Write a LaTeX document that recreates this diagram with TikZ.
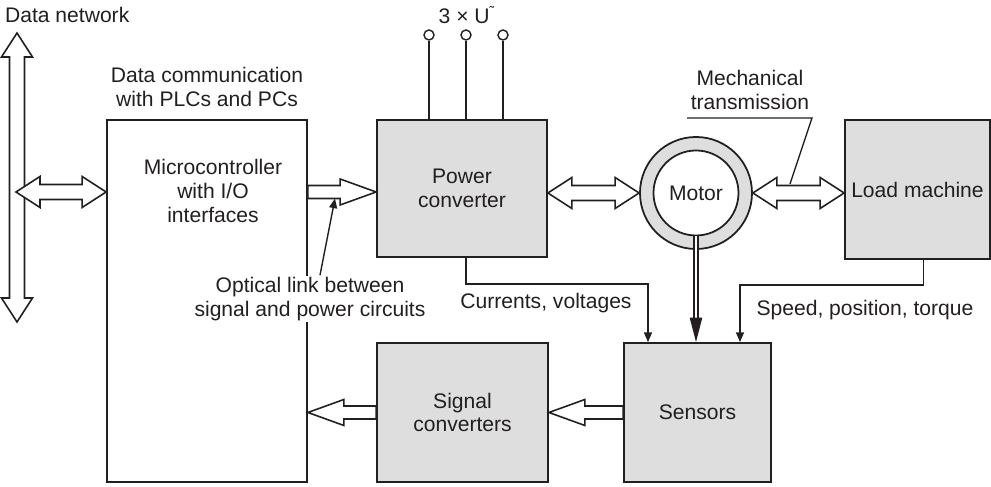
\documentclass[tikz,border=0pt]{standalone}
\usepackage{fontspec}
\setmainfont{Liberation Sans}
\usetikzlibrary{calc,arrows.meta,positioning}
\definecolor{ink}{RGB}{35,31,32}
\definecolor{boxgray}{RGB}{222,222,222}
\tikzset{
  block/.style={draw=ink,fill=boxgray,line width=1pt,inner sep=0pt,align=center,text=ink},
  txt/.style={text=ink,align=center,inner sep=1pt},
  thinline/.style={draw=ink,line width=0.8pt},
  wire/.style={thinline,-{Triangle[length=5.5pt,width=4.5pt]}},
  terminal/.style={circle,draw=ink,fill=white,line width=0.8pt,minimum size=0.2cm,inner sep=0pt}
}
% hollow block arrow, one head at #2
\newcommand{\hollowarrow}[2]{%
  \draw[ink,fill=white,line width=0.9pt] let \p1=($(#2)-(#1)$), \n1={veclen(\x1,\y1)},
    \n2={atan2(\y1,\x1)} in [shift={(#1)},rotate=\n2]
    (0cm,-0.13cm) -- ({\n1-0.72cm},-0.13cm) -- ({\n1-0.72cm},-0.26cm) -- (\n1,0cm)
    -- ({\n1-0.72cm},0.26cm) -- ({\n1-0.72cm},0.13cm) -- (0cm,0.13cm) -- cycle;}
% hollow block arrow, heads at both ends
\newcommand{\hollowdarrow}[2]{%
  \draw[ink,fill=white,line width=0.9pt] let \p1=($(#2)-(#1)$), \n1={veclen(\x1,\y1)},
    \n2={atan2(\y1,\x1)} in [shift={(#1)},rotate=\n2]
    (0cm,0cm) -- (0.48cm,0.31cm) -- (0.48cm,0.15cm) -- ({\n1-0.48cm},0.15cm) -- ({\n1-0.48cm},0.31cm) -- (\n1,0cm)
    -- ({\n1-0.48cm},-0.31cm) -- ({\n1-0.48cm},-0.15cm) -- (0.48cm,-0.15cm) -- (0.48cm,-0.31cm) -- cycle;}
\begin{document}
\begin{tikzpicture}[font=\fontsize{12}{13.5}\selectfont]
 \useasboundingbox (0,0) rectangle (19.82,9.74);
 % blocks
 \node[block,fill=white,minimum width=4.0cm,minimum height=7.24cm] (mcu) at (4.14,3.72) {};
 \node[txt] (mcutxt) at (4.26,5.92) {Microcontroller\\with I/O\\interfaces};
 \node[block,minimum width=3.40cm,minimum height=2.74cm] (pc) at (9.24,5.97) {Power\\converter};
 \node[block,minimum width=3.42cm,minimum height=2.78cm] (sig) at (9.25,1.49) {Signal\\converters};
 \node[block,minimum width=2.94cm,minimum height=2.78cm] (sens) at (13.95,1.49) {Sensors};
 \node[block,minimum width=2.90cm,minimum height=2.78cm] (load) at (18.35,5.95) {Load machine};
 \node[circle,draw=ink,fill=boxgray,line width=1pt,minimum size=2.24cm,inner sep=0pt] (motor) at (13.92,5.88) {};
 \node[circle,draw=ink,fill=white,line width=1pt,minimum size=1.70cm,inner sep=0pt,text=ink] (motorin) at (motor) {Motor};
 % labels
 \node[txt,anchor=west] (net) at (0.06,9.44) {Data network};
 \node[txt] (comm) at (4.14,8.00) {Data communication\\with PLCs and PCs};
 \node[txt] (supply) at (9.34,9.44) {3 × U\textsuperscript{\char"02DC}};
 \node[txt] (mech) at (15.0,7.94) {Mechanical\\transmission};
 \node[txt] (curr) at (10.92,3.68) {Currents, voltages};
 \node[txt] (speed) at (17.30,3.54) {Speed, position, torque};
 % mains terminals
 \node[terminal] (ta) at (8.58,9.04) {};
 \node[terminal] (tb) at (9.32,9.04) {};
 \node[terminal] (tc) at (10.06,9.04) {};
 \draw[thinline] (ta) -- (ta |- pc.north);
 \draw[thinline] (tb) -- (tb |- pc.north);
 \draw[thinline] (tc) -- (tc |- pc.north);
 % data network
 \coordinate (nettop) at (0.34,9.08);
 \coordinate (netbot) at (0.34,3.30);
 \coordinate (bus) at (0.32,5.90);
 \hollowdarrow{netbot}{nettop}
 \hollowdarrow{bus}{bus -| mcu.west}
 % block arrows
 \hollowarrow{mcu.east |- bus}{pc.west |- bus}
 \hollowdarrow{pc.east |- motor}{motor.west}
 \hollowdarrow{motor.east}{load.west |- motor}
 \hollowarrow{sens.west}{sig.east}
 \hollowarrow{sig.west}{mcu.east |- sig.west}
 \draw[ink,double=white,double distance=1.7pt,line width=0.85pt,-{Triangle[length=14pt,width=7pt]}]
      (motorin.south) -- (motorin.south |- sens.north);
 % measured signals
 \draw[wire] ([xshift=0.08cm]pc.south) -- ++(0,-0.52) -| ([xshift=-0.99cm]sens.north);
 \draw[wire] ([xshift=0.12cm]load.south) -- ++(0,-0.50) -| ([xshift=0.85cm]sens.north);
 % leaders
 \coordinate (mechtip) at (15.80,6.06);
 \draw[thinline] (13.74,7.38) -- (16.24,7.38) -- (mechtip);
 \node[txt,fill=white] (optlbl) at (6.20,3.76) {Optical link between\\signal and power circuits};
 \coordinate (opttip) at (6.70,5.77);
 \draw[wire] ([xshift=0.2cm]optlbl.north) -- (opttip);
\end{tikzpicture}
\end{document}
